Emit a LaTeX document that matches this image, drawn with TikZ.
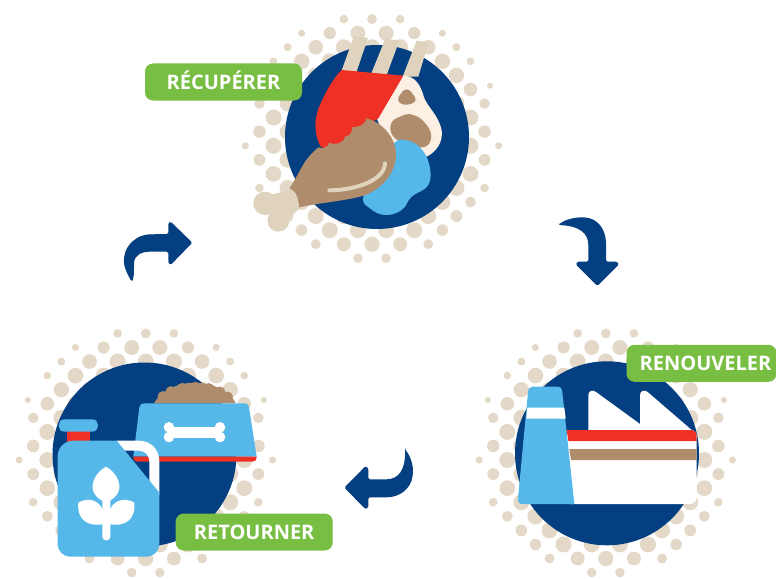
\documentclass[tikz,border=0pt]{standalone}
\usepackage{fontspec}
\setmainfont{Open Sans}
\definecolor{navy}{HTML}{033F81}
\definecolor{sky}{HTML}{56B7E9}
\definecolor{dotc}{HTML}{E4D9C8}
\definecolor{bonec}{HTML}{DFD3BE}
\definecolor{brownc}{HTML}{AE8C6C}
\definecolor{redc}{HTML}{EE3124}
\definecolor{creamc}{HTML}{FBF0E3}
\definecolor{greenc}{HTML}{78BE43}
\tikzset{
  tag/.style={fill=greenc,rounded corners=8pt,minimum height=37pt,inner sep=0pt,text=white,text height=14.3pt,text depth=0pt,font=\fontsize{20}{20}\selectfont\bfseries,anchor=center},
  zoomA/.style={shift={(230,10)},x=.33333pt,y=-.33333pt},
  zoomB/.style={shift={(470,320)},x=.33333pt,y=-.33333pt},
  zoomC/.style={shift={(10,320)},x=.33333pt,y=-.33333pt},
  zoomD/.style={shift={(110,210)},x=.33333pt,y=-.33333pt},
  zoomE/.style={shift={(545,210)},x=.33333pt,y=-.33333pt},
  zoomF/.style={shift={(335,440)},x=.33333pt,y=-.33333pt},
}
\newcommand{\halftone}[2]{%
  \begin{scope}[shift={(#1,#2)}]
  \foreach \j in {0,...,17}{
    \foreach \k in {-9,...,9}{
      \pgfmathtruncatemacro{\parit}{mod(\j+\k+18,2)}
      \pgfmathsetmacro{\dsq}{(\j-8.5)*(\j-8.5)+\k*\k}
      \pgfmathtruncatemacro{\keep}{(\parit==0 && \dsq<81.5 && \dsq>25 && !(\j==17 && abs(\k)==3)) ? 1 : 0}
      \ifnum\keep=1
        \pgfmathsetmacro{\rr}{min(8,(23-8.2*(sqrt(\dsq)-7.5))/3)}
        \fill[dotc] (\k*14.07,{(\j-8.5)*14.07}) circle[radius=\rr pt];
      \fi
    }
  }
  \fill[dotc] (118,-53) circle[radius=3pt] (-118,-53) circle[radius=3pt];
  \end{scope}%
}
\begin{document}
\begin{tikzpicture}[x=1pt,y=-1pt,line join=round]
\useasboundingbox (0,0) rectangle (776,578);
\fill[white] (0,0) rectangle (776,578);
% dot fields and discs
\halftone{372}{138.7}
\halftone{605.8}{453}
\halftone{145.8}{453}
\fill[navy] (377,137) circle[radius=92pt];
\fill[navy] (607,453.3) circle[radius=92pt];
\fill[navy] (144.5,454.5) circle[radius=92pt];
% --- meat
\begin{scope}[zoomA]
  \fill[bonec] (372,78) -- (414,84) -- (378,190) -- (332,190) -- cycle;
  \fill[bonec] (466,86) -- (508,92) -- (470,195) -- (422,195) -- cycle;
  \fill[bonec] (560,92) -- (596,97) -- (565,200) -- (518,200) -- cycle;
  \fill[creamc] (515,197) .. controls (555,195) and (572,225) .. (582,262)
     .. controls (592,290) and (625,315) .. (635,360)
     .. controls (640,395) and (620,425) .. (590,440) -- (480,420) -- (440,325) -- cycle;
  \fill[redc] (335,180) -- (520,197) -- (445,325) -- (420,340) -- (300,420) -- (272,410)
     .. controls (250,370) and (252,320) .. (272,280)
     .. controls (290,240) and (310,205) .. (335,180) -- cycle;
  \fill[brownc] plot[smooth cycle,tension=.8] coordinates {(530,238) (548,252) (556,272) (530,284) (505,274) (512,252)};
  \fill[brownc] plot[smooth cycle,tension=.8] coordinates {(482,345) (510,320) (550,315) (590,345) (603,385) (580,412) (540,400) (495,385)};
  \fill[sky] plot[smooth cycle,tension=.7] coordinates {(490,402) (525,390) (570,412) (598,465) (595,525) (545,560) (515,600) (465,615) (420,595) (400,560) (440,470)};
  \fill[bonec] (105,580) circle[radius=11.7pt] (145,632) circle[radius=11pt];
  \fill[bonec] (115,555) -- (190,540) -- (215,590) -- (170,630) -- (120,620) -- cycle;
  \fill[brownc] (410,325) .. controls (450,335) and (495,375) .. (498,430)
     .. controls (500,490) and (450,545) .. (390,560)
     .. controls (330,575) and (270,578) .. (208,592)
     .. controls (205,560) and (195,540) .. (178,535)
     .. controls (195,510) and (210,480) .. (225,455)
     .. controls (240,435) and (255,420) .. (265,412)
     .. controls (275,418) and (295,412) .. (298,398)
     .. controls (320,408) and (345,395) .. (345,380)
     .. controls (365,378) and (368,358) .. (365,352)
     .. controls (385,352) and (405,345) .. (410,325) -- cycle;
  \draw[bonec,line width=4pt,line cap=round] (298,541) .. controls (390,540) and (465,505) .. (465,460);
\end{scope}
% --- factory
\begin{scope}[zoomB]
  \fill[white] (290,330) -- (355,330) -- (355,226) .. controls (355,212) and (368,208) .. (378,216)
     -- (510,312) -- (510,226) .. controls (510,212) and (523,208) .. (533,216)
     -- (665,330) .. controls (675,332) and (680,338) .. (680,348)
     -- (680,530) .. controls (680,544) and (672,552) .. (660,552) -- (300,552) -- cycle;
  \fill[redc] (290,330) -- (662,330) .. controls (674,330) and (680,338) .. (680,348) -- (680,363) -- (295,363) -- cycle;
  \fill[brownc] (298,387) -- (680,387) -- (680,420) -- (303,420) -- cycle;
  \fill[sky] (188,200) -- (262,200) .. controls (272,200) and (276,206) .. (277,216)
     -- (313,552) -- (158,552) .. controls (148,552) and (143,546) .. (144,536)
     -- (174,216) .. controls (175,206) and (180,200) .. (188,200) -- cycle;
  \fill[white] (172,263) -- (283,263) -- (287,296) -- (169,296) -- cycle;
\end{scope}
% --- bowl and jug
\begin{scope}[zoomC]
  \fill[brownc] (432,250) .. controls (450,215) and (500,188) .. (555,188) .. controls (610,188) and (660,215) .. (678,250) -- cycle;
  \foreach \a in {155,133,111,89,67,45,23}{
    \fill[brownc] ({555+106*cos(\a)},{250-48*sin(\a)}) circle[radius=5.5pt];
  }
  \fill[sky] (405,250) -- (705,250) .. controls (713,250) and (716,254) .. (717,262)
     -- (740,410) -- (370,410) -- (388,262) .. controls (389,254) and (395,250) .. (405,250) -- cycle;
  \fill[redc] (370,410) -- (740,410) .. controls (740,420) and (735,425) .. (728,425) -- (382,425) .. controls (375,425) and (370,420) .. (370,410) -- cycle;
  \fill[white] (477,322) circle[radius=5.3pt] (477,351) circle[radius=5.3pt]
               (630,322) circle[radius=5.3pt] (630,351) circle[radius=5.3pt];
  \fill[white] (472,320) rectangle (635,353);
  \fill[white] (320,362) -- (385,362) .. controls (425,362) and (448,390) .. (448,425) -- (448,525) -- (418,500) -- (418,425) .. controls (418,405) and (405,392) .. (385,392) -- (340,392) -- cycle;
  \fill[redc] (170,330) rectangle (240,370);
  \fill[sky] (163,298) -- (247,298) .. controls (270,298) and (270,335) .. (247,335) -- (163,335) .. controls (140,335) and (140,298) .. (163,298) -- cycle;
  \fill[sky] (190,362) -- (320,362) -- (448,518) -- (448,670) .. controls (448,695) and (430,710) .. (408,710)
     -- (183,710) .. controls (160,710) and (143,695) .. (143,670) -- (143,408) .. controls (143,382) and (165,362) .. (190,362) -- cycle;
  \fill[white] (288,440) .. controls (314,455) and (330,480) .. (328,505) .. controls (324,530) and (305,540) .. (288,548)
     .. controls (270,540) and (252,530) .. (248,505) .. controls (246,480) and (262,455) .. (288,440) -- cycle;
  \fill[white] (205,548) .. controls (235,530) and (272,540) .. (282,580) -- (282,612) .. controls (235,622) and (200,600) .. (205,548) -- cycle;
  \fill[white] (373,548) .. controls (343,530) and (306,540) .. (296,580) -- (296,612) .. controls (343,622) and (378,600) .. (373,548) -- cycle;
  \fill[white] (277,540) -- (301,540) -- (301,650) .. controls (301,665) and (277,665) .. (277,650) -- cycle;
\end{scope}
% --- arrows
\begin{scope}[zoomD]
  \fill[navy,rounded corners=1.5pt] (66,216) .. controls (50,190) and (40,165) .. (42,145)
     .. controls (48,100) and (85,75) .. (120,73) -- (175,72) -- (175,38) -- (182,35) -- (247,98) -- (182,165) -- (175,160) -- (175,125) -- (125,125)
     .. controls (95,125) and (72,135) .. (72,165) .. controls (72,185) and (72,200) .. (66,216) -- cycle;
\end{scope}
\begin{scope}[zoomE]
  \fill[navy,rounded corners=1.5pt] (40,45) .. controls (60,28) and (90,22) .. (115,22)
     .. controls (160,25) and (183,60) .. (183,105) -- (183,155) -- (217,155) -- (222,163) -- (157,228) -- (92,163) -- (97,155) -- (130,155) -- (130,110)
     .. controls (130,70) and (105,48) .. (40,45) -- cycle;
\end{scope}
\begin{scope}[zoomF]
  \fill[navy,rounded corners=1.5pt] (210,28) .. controls (228,50) and (236,80) .. (233,105)
     .. controls (228,145) and (195,172) .. (150,172) -- (100,172) -- (100,203) -- (92,208) -- (28,143) -- (92,78) -- (100,84) -- (100,118) -- (150,118)
     .. controls (190,118) and (212,90) .. (210,28) -- cycle;
\end{scope}
% --- labels
\node[tag,minimum width=157pt] (recup) at (223.5,82) {RÉCUPÉRER};
\node[tag,minimum width=150pt] (renou) at (701.5,363.3) {\hspace*{8pt}RENOUVELER};
\node[tag,minimum width=157pt] (retou) at (254.2,532) {RETOURNER};
\end{tikzpicture}
\end{document}
